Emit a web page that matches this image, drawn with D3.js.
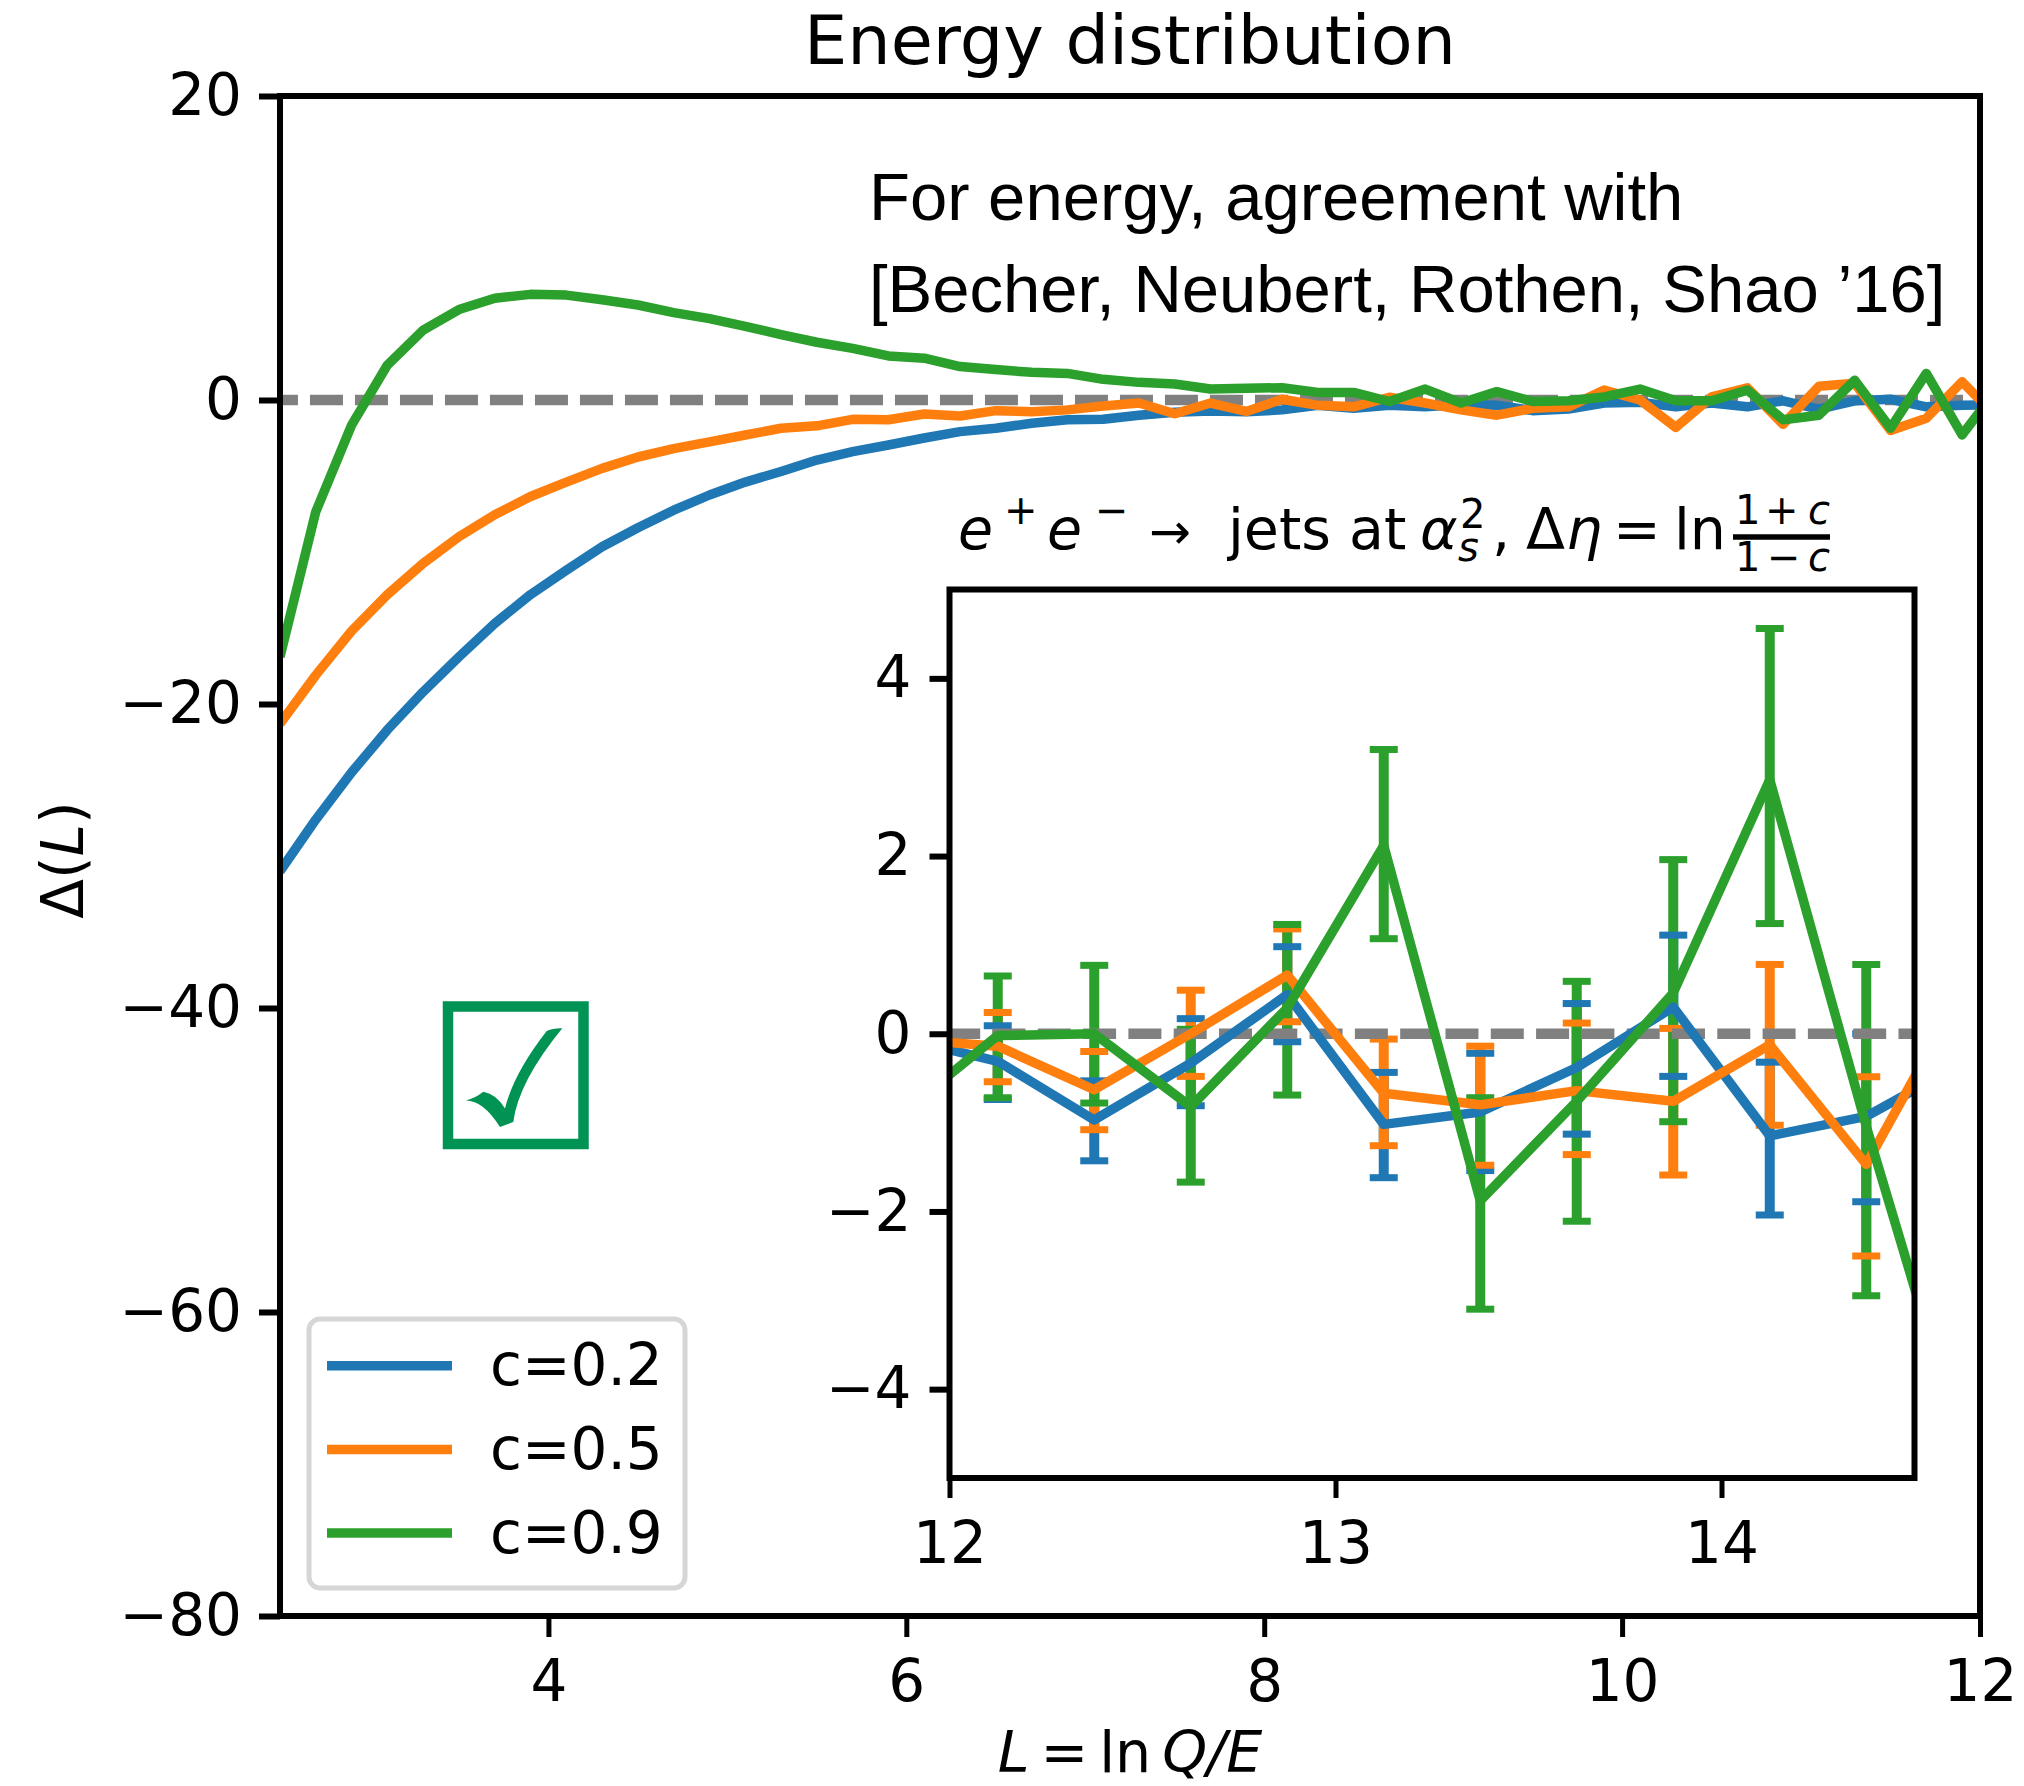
<!DOCTYPE html>
<html>
<head>
<meta charset="utf-8">
<script src="https://cdn.jsdelivr.net/npm/d3@7/dist/d3.min.js"></script>
<style>
html,body{margin:0;padding:0;background:#fff}
text{font-family:"DejaVu Sans";fill:#000}
.ann{font-family:"Liberation Sans"}
</style>
</head>
<body>
<svg id="chart" width="2024" height="1786" xmlns="http://www.w3.org/2000/svg"></svg>
<script>
// ---- data ----
const seriesNames = ["c=0.2", "c=0.5", "c=0.9"];
const seriesColors = ["#1f77b4", "#ff7f0e", "#2ca02c"];

const mainL = [2.5,2.7,2.9,3.1,3.3,3.5,3.7,3.9,4.1,4.3,4.5,4.7,4.9,5.1,5.3,5.5,5.7,5.9,6.1,6.3,6.5,6.7,6.9,7.1,7.3,7.5,7.7,7.9,8.1,8.3,8.5,8.7,8.9,9.1,9.3,9.5,9.7,9.9,10.1,10.3,10.5,10.7,10.9,11.1,11.3,11.5,11.7,11.9,12.1];
const mainBlue = [-31.0,-27.6,-24.5,-21.7,-19.2,-16.9,-14.7,-12.8,-11.2,-9.65,-8.4,-7.25,-6.25,-5.4,-4.7,-3.95,-3.4,-2.96,-2.5,-2.08,-1.86,-1.53,-1.3,-1.27,-1.0,-0.8,-0.72,-0.77,-0.65,-0.35,-0.55,-0.35,-0.45,-0.3,-0.35,-0.7,-0.6,-0.2,-0.15,-0.45,-0.2,-0.45,-0.05,-0.6,-0.05,0.05,-0.45,-0.35,-0.3];
const mainOrange = [-21.3,-18.1,-15.2,-12.8,-10.75,-9.0,-7.55,-6.35,-5.4,-4.5,-3.75,-3.2,-2.75,-2.3,-1.86,-1.7,-1.27,-1.3,-0.92,-1.05,-0.7,-0.77,-0.65,-0.4,-0.2,-0.9,-0.2,-0.75,0.05,-0.35,-0.45,0.18,-0.2,-0.65,-1.0,-0.55,-0.45,0.65,0,-1.8,0.2,0.8,-1.6,0.9,1.1,-2.0,-1.2,1.2,-1.2];
const mainGreen = [-16.9,-7.35,-1.65,2.3,4.6,5.95,6.7,6.95,6.9,6.6,6.25,5.75,5.35,4.85,4.3,3.8,3.4,2.9,2.75,2.2,2.0,1.82,1.75,1.36,1.16,1.05,0.72,0.77,0.81,0.5,0.5,-0.1,0.72,-0.2,0.55,-0.1,-0.05,0.2,0.72,-0.05,-0.05,0.65,-1.3,-1.0,1.3,-1.85,1.75,-2.3,0.8];

const insetL = [11.875,12.125,12.375,12.625,12.875,13.125,13.375,13.625,13.875,14.125,14.375,14.625];
const insetBlue = [-0.05,-0.31,-0.97,-0.33,0.44,-1.02,-0.88,-0.38,0.30,-1.15,-0.93,-0.33];
const insetOrange = [-0.06,-0.14,-0.63,0.0,0.66,-0.67,-0.80,-0.64,-0.76,-0.125,-1.47,0.49];
const insetGreen = [-0.9,-0.02,0.0,-0.82,0.29,2.12,-1.88,-0.76,0.46,2.86,-1.04,-4.68];

const errL = [12.125,12.375,12.625,12.875,13.125,13.375,13.625,13.875,14.125,14.375];
const blueLow  = [-0.74,-1.43,-0.81,-0.09,-1.62,-1.54,-1.13,-0.48,-2.04,-1.89];
const blueHigh = [0.09,-0.53,0.17,0.98,-0.435,-0.22,0.34,1.11,-0.32,0.0];
const orangeLow  = [-0.54,-1.08,-0.48,0.135,-1.26,-1.48,-1.36,-1.59,-1.03,-2.5];
const orangeHigh = [0.24,-0.20,0.49,1.18,-0.06,-0.14,0.12,0.06,0.78,-0.485];
const greenLow  = [-0.72,-0.78,-1.67,-0.69,1.07,-3.1,-2.11,-0.99,1.24,-2.95];
const greenHigh = [0.65,0.77,0.05,1.23,3.2,-0.72,0.59,1.96,4.56,0.78];

const mainXTicks = [4,6,8,10,12];
const mainYTicks = [20,0,-20,-40,-60,-80];
const insetXTicks = [12,13,14];
const insetYTicks = [4,2,0,-2,-4];

const titleText = "Energy distribution";
const noteLines = ["For energy, agreement with", "[Becher, Neubert, Rothen, Shao \u201916]"];

// ---- layout ----
const W = {l:280, r:1980, t:96, b:1616};
const I = {l:949.5, r:1914.5, t:589.5, b:1478};
const LW = 9.5, SP = 6, FS = 58;
const MINUS = "\u2212";
const fmt = d => String(d).replace("-", MINUS);

const x = d3.scaleLinear().domain([2.5,12]).range([W.l,W.r]);
const y = d3.scaleLinear().domain([-80,20]).range([W.b,W.t]);
const ix = d3.scaleLinear().domain([12,14.5]).range([I.l,I.r]);
const iy = d3.scaleLinear().domain([-5,5]).range([I.b,I.t]);

const svg = d3.select("#chart");
svg.append("rect").attr("width",2024).attr("height",1786).attr("fill","#fff");
const defs = svg.append("defs");
defs.append("clipPath").attr("id","cm").append("rect").attr("x",W.l).attr("y",W.t).attr("width",W.r-W.l).attr("height",W.b-W.t);
defs.append("clipPath").attr("id","ci").append("rect").attr("x",I.l).attr("y",I.t).attr("width",I.r-I.l).attr("height",I.b-I.t);

function styleAxis(g, tickW){
  g.select(".domain").remove();
  g.selectAll(".tick line").attr("stroke","#000").attr("stroke-width",tickW);
  g.selectAll(".tick text").attr("font-size",FS).attr("font-family","DejaVu Sans").attr("fill","#000");
}

// ---- main axes ----
const mainG = svg.append("g").attr("clip-path","url(#cm)");
const lineMain = d3.line().x((d,i)=>x(mainL[i])).y(d=>y(d));
mainG.append("line").attr("x1",x(2.416)).attr("x2",W.r).attr("y1",y(0)).attr("y2",y(0))
  .attr("stroke","#808080").attr("stroke-width",10.5).attr("stroke-dasharray","33 12");
[mainBlue,mainOrange,mainGreen].forEach((s,k)=>{
  mainG.append("path").attr("d",lineMain(s)).attr("fill","none").attr("stroke",seriesColors[k])
    .attr("stroke-width",LW).attr("stroke-linejoin","round");
});
svg.append("rect").attr("x",W.l).attr("y",W.t).attr("width",W.r-W.l).attr("height",W.b-W.t)
  .attr("fill","none").attr("stroke","#000").attr("stroke-width",SP);

const gx = svg.append("g").attr("transform",`translate(0,${W.b})`)
  .call(d3.axisBottom(x).tickValues(mainXTicks).tickSize(21).tickPadding(23).tickFormat(fmt));
styleAxis(gx,5);
const gy = svg.append("g").attr("transform",`translate(${W.l},0)`)
  .call(d3.axisLeft(y).tickValues(mainYTicks).tickSize(21).tickPadding(17).tickFormat(fmt));
styleAxis(gy,6);

// title & axis labels
svg.append("text").attr("x",1130).attr("y",64).attr("text-anchor","middle").attr("font-size",68.5).text(titleText);
const xl = svg.append("text").attr("x",1130).attr("y",1772).attr("text-anchor","middle").attr("font-size",57);
xl.append("tspan").attr("font-style","italic").text("L");
xl.append("tspan").attr("dx",11).text("=");
xl.append("tspan").attr("dx",11).text("ln");
xl.append("tspan").attr("dx",11).attr("font-style","italic").text("Q/E");
const yl = svg.append("text").attr("transform","translate(83,860) rotate(-90)").attr("text-anchor","middle").attr("font-size",58);
yl.append("tspan").text("\u0394(");
yl.append("tspan").attr("font-style","italic").text("L");
yl.append("tspan").text(")");

// annotation
noteLines.forEach((t,i)=>{
  svg.append("text").attr("class","ann").attr("x",869).attr("y",[220,312][i]).attr("font-size",67).text(t);
});

// legend
const leg = svg.append("g");
leg.append("rect").attr("x",309).attr("y",1319).attr("width",376).attr("height",269).attr("rx",11)
  .attr("fill","#fff").attr("stroke","#d6d6d6").attr("stroke-width",5);
seriesNames.forEach((n,i)=>{
  const yy=[1365.7,1449.4,1533][i];
  leg.append("line").attr("x1",327).attr("x2",452).attr("y1",yy).attr("y2",yy).attr("stroke",seriesColors[i]).attr("stroke-width",LW);
  leg.append("text").attr("x",490).attr("y",[1385,1469,1553][i]).attr("font-size",FS).text(n);
});

// check box
const checkColor = "#009354";
svg.append("rect").attr("x",448).attr("y",1006.5).attr("width",135.5).attr("height",137.5)
  .attr("fill","none").attr("stroke",checkColor).attr("stroke-width",10.5);
svg.append("path").attr("fill",checkColor)
  .attr("d","M466,1100.4 Q475,1098.4 483.3,1091.8 Q496.7,1094.3 505,1108.6 Q513.3,1073.9 546.7,1031 Q553.3,1027.8 562.3,1028.2 Q518.3,1082 513.3,1122 L500,1127 Q483.3,1100.4 466,1100.4 Z");

// ---- inset ----
svg.append("rect").attr("x",I.l).attr("y",I.t).attr("width",I.r-I.l).attr("height",I.b-I.t).attr("fill","#fff");
const insetG = svg.append("g").attr("clip-path","url(#ci)");
const lows=[blueLow,orangeLow,greenLow], highs=[blueHigh,orangeHigh,greenHigh];
const BARW=10, CAPW=14, CAPT=7;
// vertical bars first
lows.forEach((lo,k)=>{
  insetG.append("g").selectAll("line").data(errL).join("line")
    .attr("x1",d=>ix(d)).attr("x2",d=>ix(d))
    .attr("y1",(d,i)=>iy(lo[i])).attr("y2",(d,i)=>iy(highs[k][i]))
    .attr("stroke",seriesColors[k]).attr("stroke-width",BARW);
});
// caps over all bars
lows.forEach((lo,k)=>{
  [lo,highs[k]].forEach(arr=>{
    insetG.append("g").selectAll("line").data(errL).join("line")
      .attr("x1",d=>ix(d)-CAPW).attr("x2",d=>ix(d)+CAPW)
      .attr("y1",(d,i)=>iy(arr[i])).attr("y2",(d,i)=>iy(arr[i]))
      .attr("stroke",seriesColors[k]).attr("stroke-width",CAPT);
  });
});
insetG.append("line").attr("x1",ix(11.994)).attr("x2",I.r).attr("y1",iy(0)).attr("y2",iy(0))
  .attr("stroke","#808080").attr("stroke-width",10.5).attr("stroke-dasharray","33 12.3");
const lineInset = d3.line().x((d,i)=>ix(insetL[i])).y(d=>iy(d));
[insetBlue,insetOrange,insetGreen].forEach((s,k)=>{
  insetG.append("path").attr("d",lineInset(s)).attr("fill","none").attr("stroke",seriesColors[k])
    .attr("stroke-width",LW).attr("stroke-linejoin","round");
});
svg.append("rect").attr("x",I.l).attr("y",I.t).attr("width",I.r-I.l).attr("height",I.b-I.t)
  .attr("fill","none").attr("stroke","#000").attr("stroke-width",SP);
const igx = svg.append("g").attr("transform",`translate(0,${I.b})`)
  .call(d3.axisBottom(ix).tickValues(insetXTicks).tickSize(20).tickPadding(24).tickFormat(fmt));
styleAxis(igx,5);
const igy = svg.append("g").attr("transform",`translate(${I.l},0)`)
  .call(d3.axisLeft(iy).tickValues(insetYTicks).tickSize(20).tickPadding(18).tickFormat(fmt));
styleAxis(igy,6);

// inset title as real text pieces
const it = svg.append("g");
function piece(t,px,py,fs,italic,anchor){
  it.append("text").attr("x",px).attr("y",py).attr("font-size",fs)
    .attr("font-style",italic?"italic":"normal").attr("text-anchor",anchor||"start").text(t);
}
piece("e",958,549,57,true);
piece("+",1004,524,40,false);
piece("e",1047,549,57,true);
piece(MINUS,1095,524,40,false);
piece("\u2192",1149,549,50,false);
piece("jets at",1228,549,57,false);
piece("\u03b1",1420,549,57,true);
piece("2",1460,528,40,false);
piece("s",1458,561,40,true);
piece(",",1492,549,57,false);
piece("\u0394",1526,549,57,false);
piece("\u03b7",1566,549,57,true);
piece("=",1613,549,57,false);
piece("ln",1674,549,57,false);
piece("1",1735,524,40,false);
piece("+",1765,524,40,false);
piece("c",1808,524,40,true);
piece("1",1735,571,40,false);
piece(MINUS,1767,571,40,false);
piece("c",1808,571,40,true);
it.append("line").attr("x1",1733).attr("x2",1830).attr("y1",537).attr("y2",537).attr("stroke","#000").attr("stroke-width",5.5);
</script>
</body>
</html>
